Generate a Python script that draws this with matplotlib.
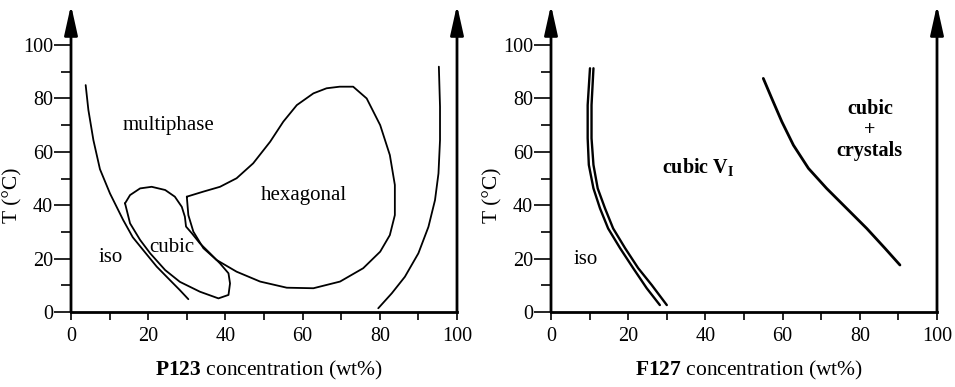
import matplotlib
matplotlib.use("Agg")
import matplotlib.pyplot as plt
from matplotlib.patches import ArrowStyle

plt.rcParams['font.family'] = ['Liberation Serif', 'DejaVu Serif']
plt.rcParams['mathtext.fontset'] = 'custom'
plt.rcParams['mathtext.rm'] = 'Liberation Serif'
plt.rcParams['mathtext.bf'] = 'Liberation Serif:bold'
plt.rcParams['mathtext.it'] = 'Liberation Serif:italic'
plt.rcParams['lines.solid_joinstyle'] = 'round'
plt.rcParams['lines.solid_capstyle'] = 'round'

# ---- P123 phase diagram (left) ----
iso_x = [3.8, 4.5, 5.8, 7.5, 10.1, 13.5, 16.0, 18.7, 22.2, 25.6, 28.2, 30.4]
iso_y = [85.0, 75.7, 64.4, 53.5, 44.4, 34.5, 28.0, 23.2, 17.0, 12.0, 8.2, 4.8]

cub_x = [14.0, 15.3, 17.9, 20.9, 24.4, 26.9, 28.7, 29.5, 29.8, 31.3, 33.4, 36.0,
         38.6, 40.8, 41.2, 40.8, 38.2, 33.4, 28.2, 24.4, 20.5, 17.9, 15.3, 14.0]
cub_y = [40.7, 43.8, 46.3, 46.9, 45.7, 43.2, 39.4, 35.7, 32.0, 29.5, 25.7, 22.0,
         18.2, 14.5, 10.7, 6.4, 5.1, 7.6, 11.3, 15.7, 22.0, 27.0, 33.2, 40.7]

hex_x = [30.0, 34.3, 38.6, 42.9, 47.2, 51.6, 55.0, 58.5, 62.8, 66.2, 69.6, 73.1,
         76.6, 80.1, 82.6, 83.9, 83.9, 82.6, 80.1, 75.7, 69.7, 62.8, 55.9, 49.0,
         42.9, 37.7, 34.3, 31.7, 30.4, 30.0]
hex_y = [43.2, 45.1, 46.9, 50.1, 55.7, 63.8, 71.3, 77.5, 81.9, 83.8, 84.4, 84.4,
         80.0, 70.0, 58.8, 47.6, 36.3, 28.8, 22.6, 16.4, 11.4, 8.9, 9.1, 11.4,
         15.1, 19.5, 23.9, 30.1, 36.3, 43.2]

rc_x = [95.3, 95.6, 95.6, 95.2, 94.3, 92.6, 90.0, 86.5, 83.1, 79.6]
rc_y = [91.9, 76.9, 64.4, 51.9, 41.9, 31.9, 22.0, 13.2, 7.0, 1.4]

# ---- F127 phase diagram (right) ----
f_in_x = [10.1, 9.5, 9.5, 9.8, 11.0, 12.7, 14.8, 17.9, 21.3, 24.8, 28.2]
f_in_y = [91.3, 77.5, 65.1, 55.1, 46.3, 38.8, 31.3, 23.9, 16.4, 8.9, 2.6]
f_out_x = [11.0, 10.5, 10.5, 11.0, 12.1, 14.0, 16.1, 19.2, 22.6, 26.1, 30.0]
f_out_y = [91.3, 77.5, 65.1, 55.1, 46.3, 38.8, 31.3, 23.9, 16.4, 10.1, 2.6]
f_cr_x = [55.0, 57.2, 59.8, 62.8, 66.7, 71.4, 76.6, 81.8, 86.5, 90.4]
f_cr_y = [87.5, 80.0, 71.3, 62.5, 53.8, 46.3, 38.8, 31.3, 23.9, 17.6]

major_ticks = [0, 20, 40, 60, 80, 100]
minor_ticks = [10, 30, 50, 70, 90]

fig = plt.figure(figsize=(9.55, 3.87), dpi=100)
ax1 = fig.add_axes([71 / 955, 75 / 387, 386 / 955, 307 / 387])
ax2 = fig.add_axes([551 / 955, 75 / 387, 386 / 955, 307 / 387])

arrow = ArrowStyle('-|>', head_length=1.8, head_width=0.4)


def setup(ax, bold_name):
    ax.set_xlim(0, 100)
    ax.set_ylim(0, 115)
    for s in ['left', 'right', 'top']:
        ax.spines[s].set_visible(False)
    ax.spines['bottom'].set_linewidth(2)
    for xv in [0, 100]:
        ax.annotate('', xy=(xv, 115), xytext=(xv, 0), annotation_clip=False,
                    arrowprops=dict(arrowstyle=arrow, lw=2, color='k',
                                    mutation_scale=10, shrinkA=0, shrinkB=0))
    ax.set_xticks(major_ticks)
    ax.set_xticks(minor_ticks, minor=True)
    ax.set_yticks(major_ticks)
    ax.set_yticks(minor_ticks, minor=True)
    ax.tick_params(axis='x', which='both', length=6, width=1.2, pad=5,
                   labelsize=14.5)
    ax.tick_params(axis='y', which='major', length=12, width=1.2, pad=1,
                   labelsize=14.5)
    ax.tick_params(axis='y', which='minor', length=7, width=1.2)
    ax.text(-0.15, 0.381, 'T (°C)', transform=ax.transAxes, rotation=90,
            ha='center', va='center', fontsize=15.5)
    ax.text(0.514, -0.189, r'$\mathbf{' + bold_name + r'}$ concentration (wt%)',
            transform=ax.transAxes, ha='center', va='center', fontsize=15.5)


setup(ax1, 'P123')
setup(ax2, 'F127')

lw = 1.3
ax1.plot(iso_x, iso_y, color='k', lw=lw)
ax1.plot(cub_x, cub_y, color='k', lw=lw)
ax1.plot(hex_x, hex_y, color='k', lw=lw)
ax1.plot(rc_x, rc_y, color='k', lw=lw)

ax1.text(25.2, 70.0, 'multiphase', ha='center', va='center', fontsize=15)
ax1.text(60.2, 43.8, 'hexagonal', ha='center', va='center', fontsize=15)
ax1.text(26.1, 24.3, 'cubic', ha='center', va='center', fontsize=15)
ax1.text(10.4, 20.6, 'iso', ha='center', va='center', fontsize=15)

ax2.plot(f_in_x, f_in_y, color='k', lw=1.7)
ax2.plot(f_out_x, f_out_y, color='k', lw=1.7)
ax2.plot(f_cr_x, f_cr_y, color='k', lw=2.0)

ax2.text(38.1, 54.3, r'cubic V$_{\mathbf{I}}$', ha='center', va='center',
         fontsize=14.5, fontweight='bold')
ax2.text(9.1, 19.5, 'iso', ha='center', va='center', fontsize=15)
ax2.text(82.6, 68.2, 'cubic\n+\ncrystals', ha='center', va='center',
         fontsize=14.5, fontweight='bold', linespacing=1.05)

fig.savefig('out.png', dpi=100)
